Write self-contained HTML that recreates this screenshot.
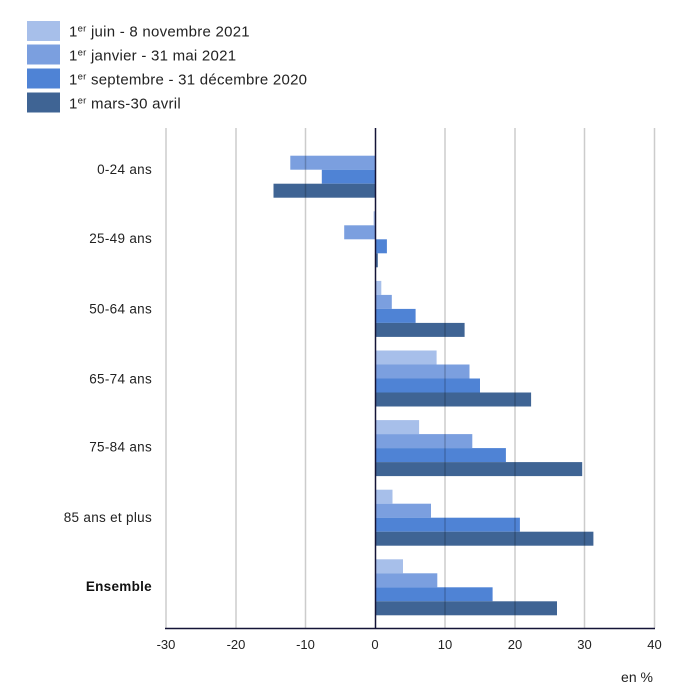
<!DOCTYPE html>
<html><head><meta charset="utf-8"><style>
html,body{margin:0;padding:0;background:#fff;}
svg{display:block;font-family:"Liberation Sans",sans-serif;}
</style></head><body>
<svg width="676" height="693" viewBox="0 0 676 693" xmlns="http://www.w3.org/2000/svg">
<!-- legend -->
<rect x="27" y="21" width="33" height="20" fill="#a7bfea"/>
<rect x="27" y="44.5" width="33" height="20" fill="#7b9fdf"/>
<rect x="27" y="68.5" width="33" height="20" fill="#4f83d5"/>
<rect x="27" y="92.5" width="33" height="20" fill="#3f6494"/>
<g font-size="15" fill="#222" letter-spacing="0.25">
<text x="69" y="36.5">1<tspan font-size="9.5" dy="-5">er</tspan><tspan dy="5"> juin - 8 novembre 2021</tspan></text>
<text x="69" y="60.5">1<tspan font-size="9.5" dy="-5">er</tspan><tspan dy="5"> janvier - 31 mai 2021</tspan></text>
<text x="69" y="84.5">1<tspan font-size="9.5" dy="-5">er</tspan><tspan dy="5"> septembre - 31 décembre 2020</tspan></text>
<text x="69" y="108.5">1<tspan font-size="9.5" dy="-5">er</tspan><tspan dy="5"> mars-30 avril</tspan></text>
</g>
<!-- bars -->
<g>
<rect x="290.3" y="155.7" width="84.7" height="14" fill="#7b9fdf"/>
<rect x="321.8" y="169.7" width="53.2" height="14" fill="#4f83d5"/>
<rect x="273.5" y="183.7" width="101.5" height="14" fill="#3f6494"/>

<rect x="373.6" y="211.3" width="1.4" height="14" fill="#a7bfea"/>
<rect x="344.2" y="225.3" width="30.8" height="14" fill="#7b9fdf"/>
<rect x="375" y="239.3" width="11.9" height="14" fill="#4f83d5"/>
<rect x="375" y="253.3" width="2.8" height="14" fill="#3f6494"/>

<rect x="375" y="280.9" width="6.3" height="14" fill="#a7bfea"/>
<rect x="375" y="294.9" width="16.8" height="14" fill="#7b9fdf"/>
<rect x="375" y="308.9" width="40.6" height="14" fill="#4f83d5"/>
<rect x="375" y="322.9" width="89.6" height="14" fill="#3f6494"/>

<rect x="375" y="350.5" width="61.6" height="14" fill="#a7bfea"/>
<rect x="375" y="364.5" width="94.5" height="14" fill="#7b9fdf"/>
<rect x="375" y="378.5" width="105" height="14" fill="#4f83d5"/>
<rect x="375" y="392.5" width="156.1" height="14" fill="#3f6494"/>

<rect x="375" y="420.1" width="44.1" height="14" fill="#a7bfea"/>
<rect x="375" y="434.1" width="97.3" height="14" fill="#7b9fdf"/>
<rect x="375" y="448.1" width="130.9" height="14" fill="#4f83d5"/>
<rect x="375" y="462.1" width="207.2" height="14" fill="#3f6494"/>

<rect x="375" y="489.7" width="17.5" height="14" fill="#a7bfea"/>
<rect x="375" y="503.7" width="56" height="14" fill="#7b9fdf"/>
<rect x="375" y="517.7" width="144.9" height="14" fill="#4f83d5"/>
<rect x="375" y="531.7" width="218.4" height="14" fill="#3f6494"/>

<rect x="375" y="559.3" width="28" height="14" fill="#a7bfea"/>
<rect x="375" y="573.3" width="62.3" height="14" fill="#7b9fdf"/>
<rect x="375" y="587.3" width="117.6" height="14" fill="#4f83d5"/>
<rect x="375" y="601.3" width="182" height="14" fill="#3f6494"/>
</g>
<!-- gridlines -->
<g stroke="#000" stroke-opacity="0.2" stroke-width="1.5">
<line x1="166" y1="128" x2="166" y2="628"/>
<line x1="236" y1="128" x2="236" y2="628"/>
<line x1="305.5" y1="128" x2="305.5" y2="628"/>
<line x1="445" y1="128" x2="445" y2="628"/>
<line x1="515" y1="128" x2="515" y2="628"/>
<line x1="584.5" y1="128" x2="584.5" y2="628"/>
<line x1="654.5" y1="128" x2="654.5" y2="628"/>
</g>
<line x1="375.5" y1="128" x2="375.5" y2="628.5" stroke="#141437" stroke-width="1.5"/>
<line x1="165" y1="628.5" x2="655" y2="628.5" stroke="#141437" stroke-width="1.5"/>
<!-- category labels -->
<g font-size="13.5" fill="#222" text-anchor="end" letter-spacing="0.3">
<text x="152" y="174">0-24 ans</text>
<text x="152" y="243">25-49 ans</text>
<text x="152" y="313.5">50-64 ans</text>
<text x="152" y="383.5">65-74 ans</text>
<text x="152" y="451.5">75-84 ans</text>
<text x="152" y="522">85 ans et plus</text>
<text x="152" y="591" font-weight="bold" fill="#111">Ensemble</text>
</g>
<!-- tick labels -->
<g font-size="13" fill="#222" text-anchor="middle">
<text x="166" y="649">-30</text>
<text x="236" y="649">-20</text>
<text x="305.5" y="649">-10</text>
<text x="375" y="649">0</text>
<text x="445" y="649">10</text>
<text x="515" y="649">20</text>
<text x="584.5" y="649">30</text>
<text x="654.5" y="649">40</text>
</g>
<text x="637" y="682" font-size="14" fill="#222" text-anchor="middle">en %</text>
</svg>
</body></html>
